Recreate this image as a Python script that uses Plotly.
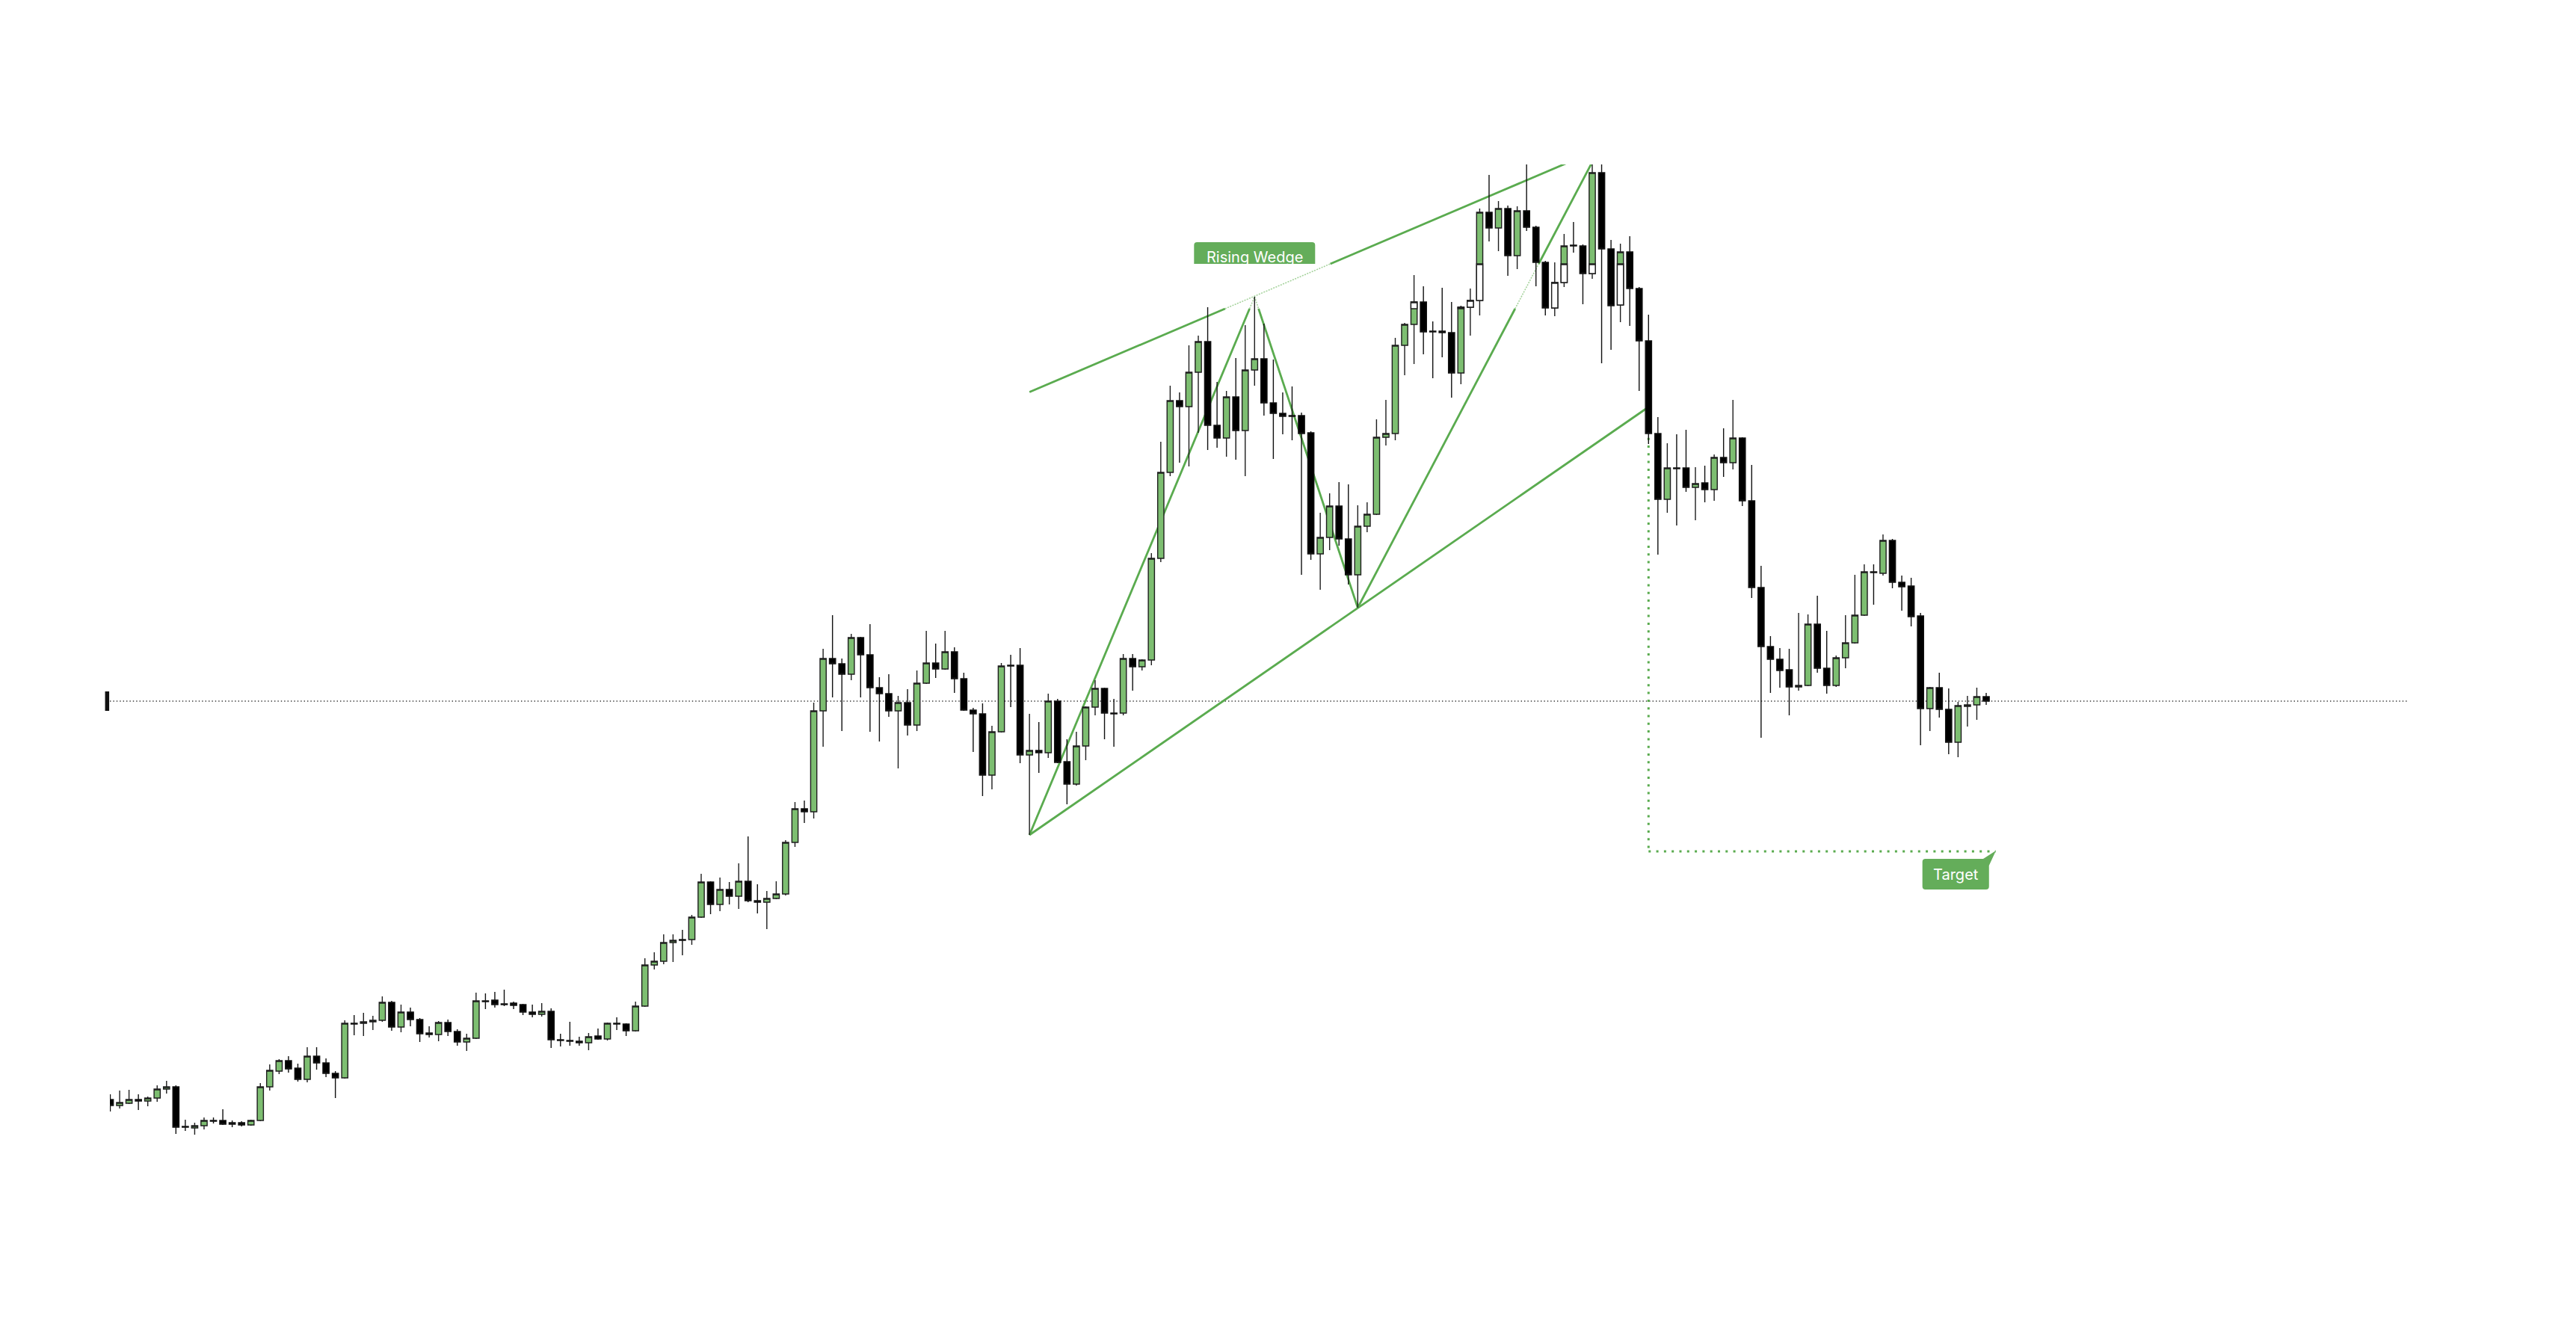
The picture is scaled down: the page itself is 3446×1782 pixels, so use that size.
import plotly.graph_objects as go

# ---------------- data (price units) ----------------
opens = [6.7, 5.9, 6.2, 6.7, 6.5, 6.9, 8.1, 8.4, 3.1, 2.9,
         3.2, 3.9, 3.9, 3.6, 3.6, 3.3, 3.9, 8.4, 10.5, 11.9,
         10.9, 9.4, 12.5, 11.6, 10.2, 9.6, 16.9, 16.9, 17.1, 17.3,
         19.7, 16.4, 18.4, 17.4, 15.6, 15.4, 17.0, 15.8, 14.4, 14.9,
         19.9, 20.0, 19.5, 19.6, 19.4, 18.4, 18.1, 18.5, 14.7, 14.6,
         14.5, 14.3, 15.2, 14.8, 16.9, 16.8, 15.9, 19.2, 24.7, 25.2,
         27.7, 28.1, 28.1, 31.1, 35.8, 32.8, 34.8, 33.9, 35.9, 33.3,
         33.1, 33.6, 34.2, 41.1, 45.6, 45.2, 58.7, 65.7, 65.0, 63.6,
         68.5, 66.2, 61.8, 61.0, 58.7, 59.8, 56.8, 62.4, 65.1, 64.3,
         66.6, 63.0, 58.8, 58.3, 50.1, 55.9, 64.8, 64.8, 52.8, 53.4,
         53.1, 60.0, 51.9, 48.9, 54.0, 59.2, 61.7, 58.4, 58.4, 65.7,
         64.6, 65.5, 79.1, 90.6, 100.2, 99.4, 104.0, 108.1, 96.9, 95.2,
         100.7, 96.2, 104.3, 105.8, 99.9, 98.5, 98.2, 98.2, 95.9, 79.7,
         81.9, 86.1, 81.7, 76.9, 83.4, 85.0, 95.3, 95.8, 107.6, 110.4,
         113.4, 109.5, 109.5, 109.3, 103.9, 112.7, 113.6, 125.4, 123.3, 125.9,
         119.6, 125.6, 123.4, 118.7, 112.6, 116.0, 121.0, 120.9, 117.2, 130.7,
         120.5, 113.0, 120.1, 115.2, 108.2, 95.8, 87.0, 91.2, 91.2, 88.6,
         89.2, 88.3, 92.6, 91.9, 95.2, 86.8, 75.2, 67.3, 65.6, 64.2,
         61.9, 62.1, 70.3, 64.4, 62.1, 65.8, 67.8, 71.5, 77.3, 77.1,
         81.5, 75.9, 75.4, 71.4, 59.0, 61.8, 58.9, 54.5, 59.3, 59.5,
         60.6]

highs = [7.4, 7.9, 8.0, 7.4, 7.1, 8.6, 9.2, 8.6, 4.0, 3.6,
         4.3, 4.3, 5.4, 3.9, 3.8, 4.0, 8.9, 11.4, 12.1, 12.5,
         11.5, 13.7, 13.7, 12.2, 10.5, 17.3, 18.0, 18.3, 17.9, 20.5,
         19.9, 19.4, 19.0, 17.6, 16.5, 17.2, 17.4, 16.1, 15.5, 21.0,
         20.9, 21.1, 21.4, 19.8, 19.5, 19.4, 19.6, 18.9, 15.5, 17.1,
         15.1, 15.6, 16.2, 17.0, 17.7, 16.9, 19.8, 25.6, 26.4, 28.8,
         28.8, 29.4, 31.4, 36.9, 35.9, 36.4, 35.8, 38.3, 41.9, 35.5,
         34.6, 35.9, 41.4, 46.5, 46.7, 59.8, 67.0, 71.5, 65.7, 69.0,
         68.6, 70.3, 63.2, 63.6, 60.7, 61.6, 64.1, 69.4, 67.7, 69.4,
         67.2, 63.8, 59.1, 59.7, 56.7, 65.1, 66.2, 67.1, 58.3, 57.2,
         61.0, 60.3, 54.9, 55.9, 59.3, 62.8, 61.8, 60.3, 66.3, 66.3,
         65.6, 79.8, 94.7, 102.2, 101.3, 107.6, 108.9, 112.7, 102.7, 101.5,
         105.9, 110.3, 114.1, 110.5, 105.7, 101.3, 102.1, 98.6, 96.1, 85.2,
         87.8, 89.3, 89.0, 86.2, 86.6, 97.7, 100.3, 108.6, 110.6, 117.0,
         115.5, 110.8, 115.3, 113.4, 112.9, 115.2, 125.9, 130.4, 126.9, 126.3,
         126.2, 132.6, 123.6, 118.9, 118.7, 122.5, 124.1, 121.1, 133.5, 133.5,
         121.7, 121.2, 122.2, 115.4, 111.7, 98.0, 94.5, 95.7, 96.3, 91.3,
         91.5, 93.0, 96.5, 100.3, 95.3, 91.6, 78.1, 68.7, 67.1, 67.0,
         71.8, 71.6, 74.1, 69.4, 66.1, 71.5, 76.9, 78.3, 78.3, 82.3,
         81.7, 76.8, 76.5, 71.8, 61.9, 63.8, 61.7, 59.9, 60.7, 61.8,
         61.1]

lows = [5.1, 5.5, 6.1, 5.3, 5.8, 6.4, 7.5, 2.1, 2.5, 2.0,
        2.7, 3.5, 3.3, 3.0, 3.1, 3.2, 3.8, 7.9, 10.1, 10.3,
        9.1, 9.0, 10.7, 9.7, 6.9, 9.5, 15.3, 15.2, 16.0, 17.1,
        15.9, 15.7, 16.5, 14.4, 15.0, 14.5, 15.2, 13.9, 13.2, 14.8,
        18.8, 19.0, 19.2, 18.8, 18.0, 17.7, 17.8, 13.6, 13.8, 13.9,
        13.9, 13.3, 14.7, 14.6, 16.0, 15.2, 15.8, 19.1, 24.1, 24.8,
        25.1, 26.0, 27.4, 31.0, 31.5, 31.9, 32.8, 32.2, 33.1, 31.6,
        29.5, 33.5, 34.0, 40.5, 43.7, 44.3, 53.9, 60.5, 56.0, 62.8,
        60.5, 55.9, 54.6, 57.9, 51.0, 55.4, 56.0, 62.3, 63.1, 64.2,
        61.1, 58.7, 53.2, 47.3, 48.2, 55.8, 59.2, 51.7, 42.1, 50.4,
        52.4, 51.7, 46.2, 48.7, 52.1, 58.1, 54.9, 53.9, 58.1, 61.4,
        64.1, 64.8, 78.6, 90.1, 91.9, 91.4, 95.9, 93.6, 93.9, 92.7,
        92.3, 90.1, 102.2, 98.2, 92.4, 95.7, 94.9, 76.9, 78.9, 74.9,
        80.2, 80.8, 75.6, 72.5, 82.6, 84.9, 94.2, 94.9, 103.6, 105.1,
        106.4, 103.2, 106.0, 100.6, 102.4, 108.9, 111.6, 121.5, 120.2, 116.9,
        117.8, 122.9, 115.5, 111.6, 111.5, 115.4, 120.0, 113.1, 116.5, 105.2,
        107.0, 110.7, 110.2, 101.5, 94.4, 79.6, 85.2, 83.5, 88.0, 84.2,
        86.6, 86.8, 90.0, 91.0, 86.1, 73.8, 55.1, 61.1, 61.8, 58.1,
        61.4, 62.0, 63.8, 61.0, 61.9, 64.4, 67.7, 71.4, 72.9, 76.8,
        75.1, 72.1, 70.0, 54.1, 56.0, 57.8, 52.9, 52.5, 56.6, 57.5,
        59.5]

closes = [5.9, 6.3, 6.7, 6.5, 6.9, 8.1, 8.4, 3.0, 3.0, 3.2,
          3.9, 3.8, 3.4, 3.4, 3.3, 3.9, 8.4, 10.6, 11.9, 10.8,
          9.4, 12.5, 11.6, 10.2, 9.6, 16.9, 16.8, 17.1, 17.3, 19.7,
          16.4, 18.4, 17.4, 15.5, 15.4, 17.0, 15.8, 14.4, 14.9, 19.9,
          19.8, 19.4, 19.4, 19.3, 18.4, 18.1, 18.5, 14.7, 14.6, 14.5,
          14.3, 15.1, 14.8, 16.9, 16.8, 15.9, 19.2, 24.7, 25.2, 27.7,
          28.0, 28.0, 31.1, 35.8, 32.8, 34.8, 33.9, 35.9, 33.3, 33.1,
          33.6, 34.2, 41.1, 45.6, 45.2, 58.7, 65.7, 65.0, 63.6, 68.5,
          66.2, 61.8, 61.0, 58.7, 59.8, 56.8, 62.4, 65.1, 64.3, 66.6,
          63.0, 58.8, 58.3, 50.1, 55.9, 64.7, 64.7, 52.8, 53.4, 53.1,
          60.0, 51.8, 48.9, 54.0, 59.2, 61.7, 58.4, 58.3, 65.7, 64.6,
          65.5, 79.1, 90.6, 100.2, 99.4, 104.0, 108.1, 96.9, 95.2, 100.7,
          96.2, 104.3, 105.8, 99.9, 98.5, 98.1, 98.1, 95.8, 79.7, 81.9,
          86.1, 81.7, 76.9, 83.4, 85.0, 95.3, 95.8, 107.6, 110.4, 113.4,
          109.4, 109.4, 109.3, 103.9, 112.7, 113.6, 125.4, 123.3, 125.9, 119.6,
          125.6, 123.4, 118.7, 112.6, 116.0, 120.9, 120.9, 117.2, 130.7, 120.5,
          112.9, 120.1, 115.2, 108.2, 95.8, 87.0, 91.2, 91.1, 88.6, 89.1,
          88.3, 92.6, 91.9, 95.2, 86.8, 75.2, 67.3, 65.6, 64.1, 61.9,
          62.1, 70.3, 64.4, 62.1, 65.8, 67.8, 71.5, 77.3, 77.2, 81.5,
          75.9, 75.3, 71.3, 59.0, 61.8, 58.9, 54.5, 59.4, 59.5, 60.6,
          60.0]

bars = list(range(len(opens)))

# reference level (dotted) and pattern annotations
level_price = 60.0
wedge_upper = [(98, 101.35), (160, 134.5)]
wedge_lower = [(98, 42.1), (164, 99.35)]
wedge_swings = [(98, 42.1), (122, 114.1), (133, 72.5), (159, 134.5)]
target_price = 39.9
target_start_bar = 164
target_end_bar = 201
wedge_label = "Rising Wedge"
target_label = "Target"

# faded band (price range where green elements wash out)
BAND_LO, BAND_HI = 112.5, 118.5

# ---------------- styling ----------------
GREEN_FILL = '#7dbe71'
GREEN_LINE = '#5aab4f'
LABEL_GREEN = '#64ad5a'
FADED = '#a6d39d'
DARK = '#1e1e1e'

fig = go.Figure()

fig.add_trace(go.Candlestick(
    x=bars, open=opens, high=highs, low=lows, close=closes,
    increasing=dict(fillcolor=GREEN_FILL, line=dict(color=DARK, width=1.4)),
    decreasing=dict(fillcolor='#000000', line=dict(color='#111111', width=1.4)),
    whiskerwidth=0, hoverinfo='skip', showlegend=False))

# washed-out (white) parts of green bodies inside the band
wx, wo, wc = [], [], []
for i, (o, c) in enumerate(zip(opens, closes)):
    if c > o:
        lo, hi = max(o, BAND_LO), min(c, BAND_HI)
        if hi > lo:
            wx.append(i); wo.append(lo); wc.append(hi)
fig.add_trace(go.Candlestick(
    x=wx, open=wo, high=wc, low=wo, close=wc,
    increasing=dict(fillcolor='#ffffff', line=dict(color=DARK, width=1.4)),
    decreasing=dict(fillcolor='#ffffff', line=dict(color=DARK, width=1.4)),
    whiskerwidth=0, hoverinfo='skip', showlegend=False))

shapes = []


def split_band(p0, p1):
    (x0, y0), (x1, y1) = p0, p1
    cuts = [0.0, 1.0]
    for yb in (BAND_LO, BAND_HI):
        if (y0 - yb) * (y1 - yb) < 0:
            cuts.append((yb - y0) / (y1 - y0))
    cuts.sort()
    out = []
    for a, b in zip(cuts[:-1], cuts[1:]):
        xa, ya = x0 + (x1 - x0) * a, y0 + (y1 - y0) * a
        xb, yb_ = x0 + (x1 - x0) * b, y0 + (y1 - y0) * b
        inside = BAND_LO < (ya + yb_) / 2 < BAND_HI
        out.append((xa, ya, xb, yb_, inside))
    return out


def add_polyline(pts):
    for p0, p1 in zip(pts[:-1], pts[1:]):
        for xa, ya, xb, yb_, inside in split_band(p0, p1):
            if inside:
                ln = dict(color=FADED, width=1.6, dash='2px,1.5px')
            else:
                ln = dict(color=GREEN_LINE, width=2.8)
            shapes.append(dict(type='line', xref='x', yref='y', layer='below',
                               x0=xa, y0=ya, x1=xb, y1=yb_, line=ln))


add_polyline(wedge_upper)
add_polyline(wedge_lower)
add_polyline(wedge_swings)

# dotted reference level across the chart
shapes.append(dict(type='line', xref='paper', yref='y', layer='below',
                   x0=0, x1=1, y0=level_price, y1=level_price,
                   line=dict(color='#3a3a3a', width=1.3, dash='1.4px,3px')))
# small marker at the left end of the level
shapes.append(dict(type='rect', xref='paper', yref='y', layer='above',
                   x0=-0.0021, x1=-0.0003, y0=level_price - 1.3, y1=level_price + 1.3,
                   fillcolor='#111111', line=dict(width=0)))

# target projection (dotted)
shapes.append(dict(type='line', xref='x', yref='y', layer='below',
                   x0=target_start_bar, x1=target_start_bar,
                   y0=wedge_lower[1][1], y1=target_price,
                   line=dict(color=GREEN_LINE, width=3, dash='3px,7.3px')))
shapes.append(dict(type='line', xref='x', yref='y', layer='below',
                   x0=target_start_bar, x1=target_end_bar,
                   y0=target_price, y1=target_price,
                   line=dict(color=GREEN_LINE, width=3, dash='3px,7.3px')))

# "Rising Wedge" label box (bottom washed out by band)
peak_bar = wedge_swings[1][0]
half_w = 6.455
bx0, bx1 = peak_bar - half_w, peak_bar + half_w
by_top = 121.4
rx, ry = 0.32, 0.4
path = (f"M {bx0},{BAND_HI} L {bx0},{by_top - ry} Q {bx0},{by_top} {bx0 + rx},{by_top} "
        f"L {bx1 - rx},{by_top} Q {bx1},{by_top} {bx1},{by_top - ry} L {bx1},{BAND_HI} Z")
shapes.append(dict(type='path', xref='x', yref='y', layer='above', path=path,
                   fillcolor=LABEL_GREEN, line=dict(width=0)))

# "Target" label box with tail pointing to target end
tx0, tx1 = 193.2, 200.3
ty_top, ty_bot = 38.9, 34.8
path = (f"M {tx0 + rx},{ty_top} L {tx1 - 0.62},{ty_top} L {target_end_bar + 0.04},{target_price + 0.1} "
        f"L {tx1},{ty_top - 0.9} L {tx1},{ty_bot + ry} Q {tx1},{ty_bot} {tx1 - rx},{ty_bot} "
        f"L {tx0 + rx},{ty_bot} Q {tx0},{ty_bot} {tx0},{ty_bot + ry} L {tx0},{ty_top - ry} "
        f"Q {tx0},{ty_top} {tx0 + rx},{ty_top} Z")
shapes.append(dict(type='path', xref='x', yref='y', layer='above', path=path,
                   fillcolor=LABEL_GREEN, line=dict(width=0)))

annotations = [
    dict(x=peak_bar, y=119.4, xref='x', yref='y', text=wedge_label, showarrow=False,
         font=dict(family='Inter, Liberation Sans, sans-serif', size=20, color='white'),
         xanchor='center', yanchor='middle'),
    dict(x=(tx0 + tx1) / 2, y=36.8, xref='x', yref='y', text=target_label, showarrow=False,
         font=dict(family='Inter, Liberation Sans, sans-serif', size=20, color='white'),
         xanchor='center', yanchor='middle'),
]

# page body has an 8px default margin, so the figure is offset by 8px
fig.update_layout(
    width=3430, height=1766, autosize=False,
    margin=dict(l=139, r=218, t=212, b=212, pad=0),
    paper_bgcolor='white', plot_bgcolor='white',
    showlegend=False,
    boxgap=0.34, boxgroupgap=0,
    shapes=shapes, annotations=annotations,
    xaxis=dict(visible=False, range=[-0.04, 244.87], rangeslider=dict(visible=False),
               fixedrange=True),
    yaxis=dict(visible=False, range=[-2.4, 131.8], fixedrange=True),
    hovermode=False,
)

fig.write_html("out.html")
